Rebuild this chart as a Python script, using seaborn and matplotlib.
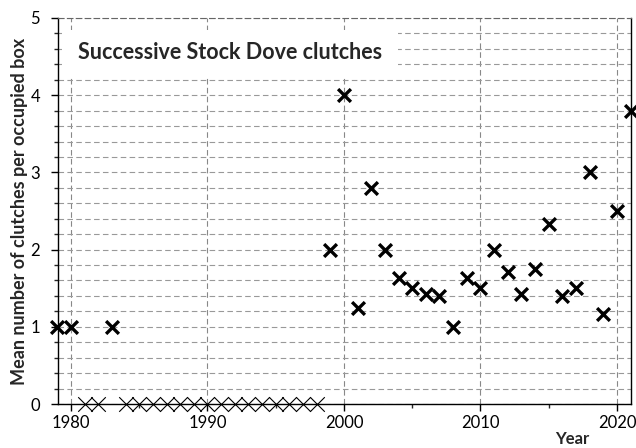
import matplotlib
matplotlib.use("Agg")
import matplotlib.pyplot as plt
import matplotlib.patches as mpatches
from matplotlib.ticker import MultipleLocator
import pandas as pd
import seaborn as sns

# years with no second clutch recorded (plotted as thin crosses on zero)
zero_years = [1981, 1982, 1984, 1985, 1986, 1987, 1988, 1989, 1990, 1991,
              1992, 1993, 1994, 1995, 1996, 1997, 1998]

# years with clutches and their mean per occupied box
years = [1979, 1980, 1983, 1999, 2000, 2001, 2002, 2003, 2004, 2005, 2006,
         2007, 2008, 2009, 2010, 2011, 2012, 2013, 2014, 2015, 2016, 2017,
         2018, 2019, 2020, 2021]
means = [1.0, 1.0, 1.0, 2.0, 4.0, 1.25, 2.8, 2.0, 1.63, 1.5, 1.43,
         1.4, 1.0, 1.63, 1.5, 2.0, 1.71, 1.43, 1.75, 2.33, 1.4, 1.5,
         3.0, 1.17, 2.5, 3.8]

x_ticks = [1980, 1990, 2000, 2010, 2020]
title = "Successive Stock Dove clutches"

df = pd.DataFrame({"Year": years, "Mean": means})
df0 = pd.DataFrame({"Year": zero_years, "Mean": [0.0] * len(zero_years)})

sns.set_style("ticks")
plt.rcParams["font.family"] = ["Lato", "DejaVu Sans"]

fig = plt.figure(figsize=(6.36, 4.48), dpi=100)
ax = fig.add_axes([58 / 636, 44 / 448, 573 / 636, 386 / 448])

ax.set_xlim(1979.05, 2021.03)
ax.set_ylim(0, 5)

# grid
ax.yaxis.set_major_locator(MultipleLocator(1))
ax.yaxis.set_minor_locator(MultipleLocator(0.2))
ax.set_xticks(x_ticks)
ax.xaxis.set_minor_locator(MultipleLocator(5))
ax.grid(which="both", axis="y", color="#999999", linestyle=(0, (5, 3)), linewidth=0.8)
ax.grid(which="major", axis="x", color="#888888", linestyle=(0, (5, 3)), linewidth=0.8)
ax.set_axisbelow(True)

sns.scatterplot(data=df0, x="Year", y="Mean", marker="x", s=110, color="black",
                linewidth=0.8, ax=ax, clip_on=False, zorder=3)
sns.scatterplot(data=df, x="Year", y="Mean", marker="x", s=85, color="black",
                linewidth=2.4, ax=ax, clip_on=False, zorder=4)

# title box covering the grid
box = mpatches.Rectangle((0.007, 0.85), 0.586, 0.12, transform=ax.transAxes,
                         facecolor="white", edgecolor="none", zorder=2)
ax.add_patch(box)
ax.text(0.035, 0.91, title, transform=ax.transAxes, fontsize=15.5,
        fontweight="bold", va="center", ha="left", zorder=5)

for s in ["left", "bottom", "right"]:
    ax.spines[s].set_color("black")
    ax.spines[s].set_linewidth(1.0)
ax.spines["top"].set_color("#666666")
ax.spines["top"].set_linestyle((0, (5, 3)))
ax.spines["top"].set_linewidth(0.8)

ax.tick_params(axis="both", which="major", direction="out", length=5,
               width=1, labelsize=12, colors="black", pad=3)
ax.tick_params(axis="both", which="minor", direction="out", length=3, width=1)
ax.tick_params(axis="y", which="major", pad=8)

ax.set_ylabel("Mean number of clutches per occupied box", fontsize=13,
              fontweight="bold", labelpad=2)
ax.set_xlabel("Year", fontsize=12, fontweight="bold")
ax.xaxis.set_label_coords(0.897, -0.07)

fig.savefig("out.png", dpi=100)
